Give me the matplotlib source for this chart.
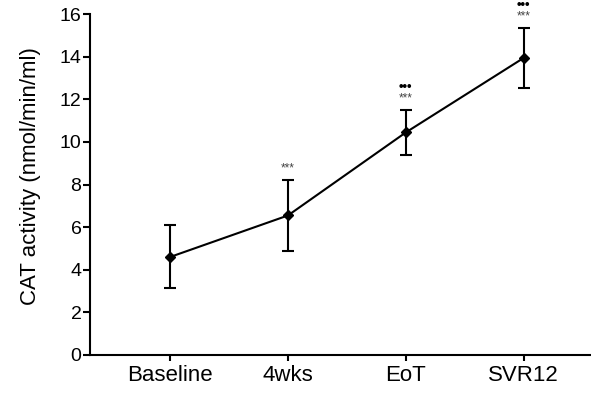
import matplotlib
matplotlib.use("Agg")
import matplotlib.pyplot as plt

plt.rcParams['font.family'] = ['Liberation Sans', 'DejaVu Sans']

categories = ["Baseline", "4wks", "EoT", "SVR12"]
means = [4.6, 6.55, 10.45, 13.95]
err_low = [3.15, 4.9, 9.4, 12.55]
err_high = [6.1, 8.2, 11.5, 15.35]
stars = ["", "***", "***", "***"]
dots = ["", "", "•••", "•••"]

x = list(range(len(categories)))
yerr = [[m - lo for m, lo in zip(means, err_low)],
        [hi - m for m, hi in zip(means, err_high)]]

fig = plt.figure(figsize=(5.91, 3.94), dpi=100)
ax = fig.add_axes([0.152, 0.099, 0.848, 0.865])

ax.errorbar(x, means, yerr=yerr, color='black', lw=1.5, marker='D',
            markersize=5.5, capsize=4.5, capthick=1.5, elinewidth=1.5,
            zorder=3)

# significance markers above the upper error caps
for xi, hi, s, d in zip(x, err_high, stars, dots):
    if s:
        ax.annotate(s, (xi, hi), xytext=(0, 8.5), textcoords='offset points',
                    ha='center', va='center', fontsize=8.5, color='#444444',
                    annotation_clip=False)
    if d:
        ax.annotate(d, (xi, hi), xytext=(0, 16.5), textcoords='offset points',
                    ha='center', va='center', fontsize=9.5, color='black',
                    fontweight='bold', annotation_clip=False)

ax.set_xlim(-0.68, 3.57)
ax.set_ylim(0, 16)
ax.set_yticks(range(0, 17, 2))
ax.set_xticks(x)
ax.set_xticklabels(categories)
ax.tick_params(axis='y', labelsize=14, direction='out', length=5,
               width=1.5, pad=1)
ax.tick_params(axis='x', labelsize=16, direction='out', length=4,
               width=1.5, pad=3)
ax.set_ylabel("CAT activity (nmol/min/ml)", fontsize=16)
ax.yaxis.set_label_coords(-0.097, 0.525)

for side in ('top', 'right'):
    ax.spines[side].set_visible(False)
for side in ('left', 'bottom'):
    ax.spines[side].set_linewidth(1.5)

fig.savefig("out.png", dpi=100)
